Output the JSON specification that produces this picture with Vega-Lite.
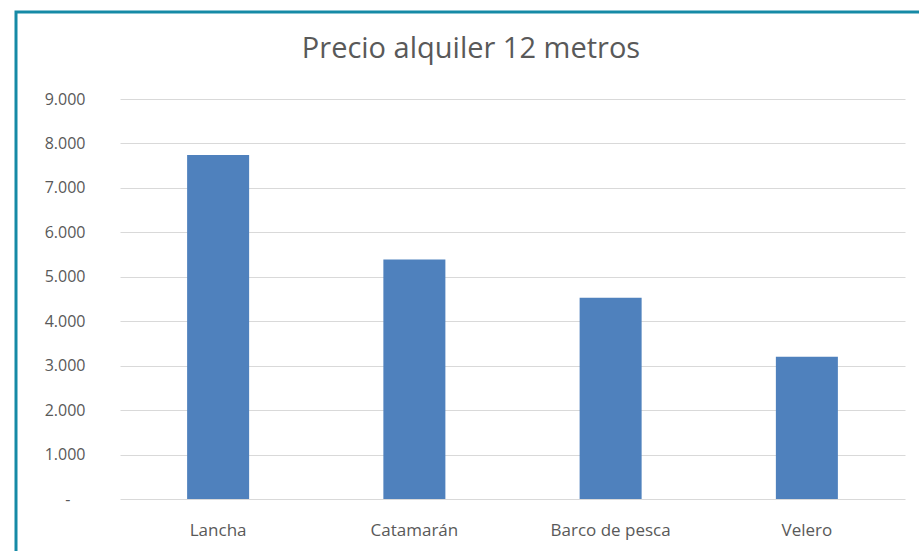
{
  "$schema": "https://vega.github.io/schema/vega-lite/v6.json",
  "autosize": "none",
  "width": 920,
  "height": 560,
  "padding": {"left": 16, "top": 12, "right": 0, "bottom": 0},
  "background": "white",
  "title": {
    "text": "Precio alquiler 12 metros",
    "anchor": "middle",
    "frame": "group",
    "orient": "top",
    "offset": -66,
    "dx": -5,
    "baseline": "middle",
    "font": "Open Sans",
    "fontSize": 29,
    "fontWeight": "normal",
    "color": "#595959"
  },
  "data": {
    "values": [
      {"tipo": "Lancha", "precio": 7740},
      {"tipo": "Catamarán", "precio": 5390},
      {"tipo": "Barco de pesca", "precio": 4530},
      {"tipo": "Velero", "precio": 3200}
    ]
  },
  "mark": {"type": "bar", "color": "#4f81bd"},
  "encoding": {
    "x": {
      "field": "tipo",
      "type": "nominal",
      "sort": null,
      "scale": {"range": [104, 889], "paddingInner": 0.684, "paddingOuter": 0.342},
      "axis": {
        "title": null,
        "labelAngle": 0,
        "ticks": false,
        "domain": false,
        "grid": false,
        "offset": -50,
        "labelPadding": 0,
        "labelBaseline": "top",
        "labelFont": "Open Sans",
        "labelFontSize": 17,
        "labelColor": "#595959"
      }
    },
    "y": {
      "field": "precio",
      "type": "quantitative",
      "scale": {"domain": [0, 9000], "range": [487, 87], "nice": false, "zero": true},
      "axis": {
        "title": null,
        "values": [0, 1000, 2000, 3000, 4000, 5000, 6000, 7000, 8000, 9000],
        "labelExpr": "datum.value == 0 ? '-' : replace(format(datum.value, ','), ',', '.')",
        "ticks": false,
        "domain": false,
        "grid": true,
        "gridColor": "#d9d9d9",
        "gridWidth": 1,
        "offset": -69,
        "labelPadding": {"condition": {"test": "datum.value == 0", "value": 15}, "value": 0},
        "labelAlign": "right",
        "labelFont": "Open Sans",
        "labelFontSize": 16,
        "labelColor": "#595959"
      }
    }
  },
  "config": {
    "view": {"stroke": "#168aa6", "strokeWidth": 3}
  }
}
